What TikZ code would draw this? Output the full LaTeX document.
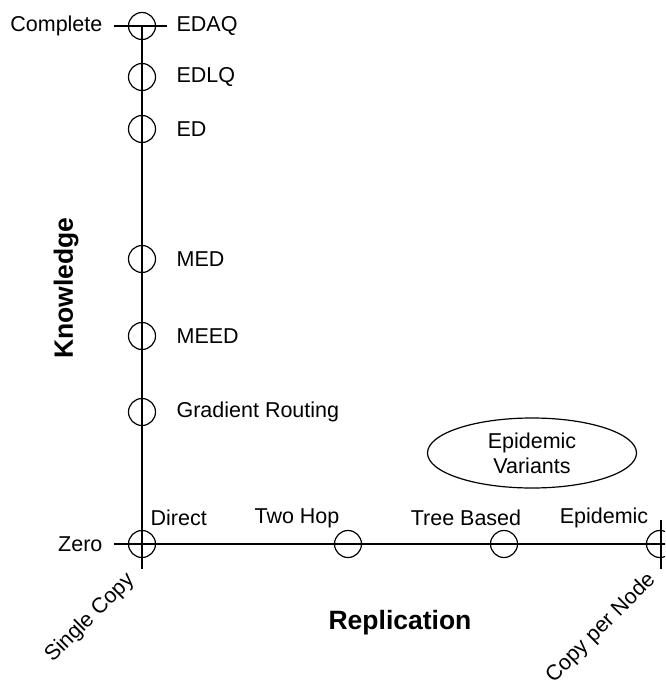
\documentclass[tikz,border=0pt]{standalone}
\usepackage{fontspec}
\setmainfont{Liberation Sans}
\usetikzlibrary{shapes.geometric}
\begin{document}
\begin{tikzpicture}[x=1pt,y=-1pt,line width=1.2pt,
  pt/.style={circle,draw,minimum size=27pt,inner sep=0pt},
  lab/.style={font=\fontsize{21.5}{24}\selectfont,inner sep=0pt},
  big/.style={font=\fontsize{26.5}{30}\selectfont\bfseries,inner sep=0pt}]
\useasboundingbox (0,0) rectangle (665,680);
\clip (0,0) rectangle (665,680);
% vertical points
\node[pt] (edaq) at (142,26) {};
\node[pt] (edlq) at (142,77) {};
\node[pt] (ed) at (142,129) {};
\node[pt] (med) at (142,259) {};
\node[pt] (meed) at (142,336) {};
\node[pt] (grad) at (142,412) {};
\node[pt] (origin) at (142,544) {};
% horizontal points
\node[pt] (twohop) at (348,544) {};
\node[pt] (tree) at (504,544) {};
\node[pt] (epi) at (660,544) {};
% axes
\coordinate (ttl) at (114,26);
\coordinate (ttr) at (167,26);
\coordinate (vbot) at (142,569);
\coordinate (hl) at (114,544);
\coordinate (hr) at (668,544);
\coordinate (rtt) at (661,520);
\coordinate (rtb) at (661,569);
\draw (edaq.center) -- (vbot);
\draw (ttl) -- (ttr);
\draw (hl) -- (hr);
\draw (rtt) -- (rtb);
% vertical labels
\node[lab,anchor=east] (complete) at (103,26) {Complete};
\node[lab,anchor=east] (zero) at (103,544) {Zero};
\node[lab,anchor=west] at (176,26) {EDAQ};
\node[lab,anchor=west] at (176,77) {EDLQ};
\node[lab,anchor=west] at (176,129) {ED};
\node[lab,anchor=west] at (176,259) {MED};
\node[lab,anchor=west] at (176,336) {MEED};
\node[lab,anchor=west] at (176,412) {Gradient Routing};
% horizontal labels
\node[lab,anchor=west] at (150,518) {Direct};
\node[lab] at (297,518) {Two Hop};
\node[lab] at (466,518) {Tree Based};
\node[lab] at (604,518) {Epidemic};
% ellipse
\node[ellipse,draw,minimum width=209pt,minimum height=70pt,inner sep=0pt,
  align=center,font=\fontsize{21.5}{25}\selectfont] (var) at (532,453) {Epidemic\\Variants};
% axis titles
\node[big,rotate=90] (know) at (66,288) {Knowledge};
\node[big] (repl) at (400,623) {Replication};
\node[lab,rotate=45] (single) at (90,618) {Single Copy};
\node[lab,rotate=45] (cpn) at (601,628) {Copy per Node};
\end{tikzpicture}
\end{document}
